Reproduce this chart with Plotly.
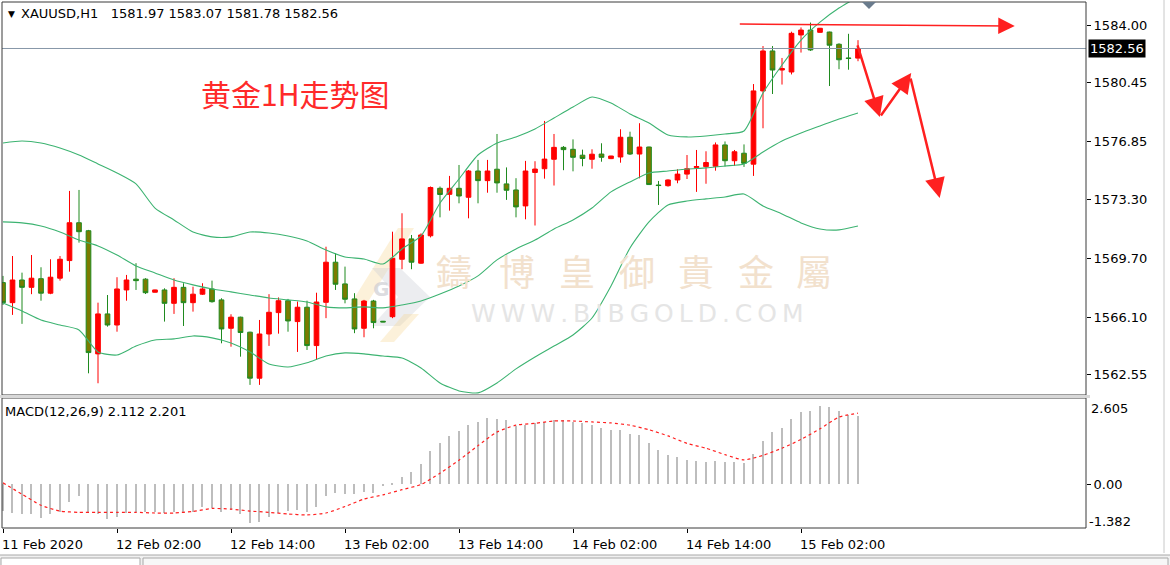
import plotly.graph_objects as go

# ---------------- data ----------------
bars = list(range(91))
opens = [1568.21, 1566.98, 1568.37, 1567.92, 1568.45, 1567.56, 1568.48, 1569.56, 1571.88, 1571.39,
         1563.84, 1566.29, 1565.61, 1567.76, 1568.42, 1568.42, 1567.62, 1567.76, 1566.94, 1567.92,
         1566.98, 1567.50, 1567.82, 1567.15, 1565.41, 1566.09, 1565.17, 1562.35, 1565.06, 1566.37,
         1567.10, 1565.82, 1566.70, 1564.35, 1567.00, 1569.46, 1568.13, 1567.21, 1565.41, 1567.08,
         1565.84, 1566.12, 1569.64, 1570.89, 1569.40, 1571.08, 1573.99, 1573.62, 1573.99, 1573.44,
         1575.05, 1574.46, 1575.16, 1574.26, 1573.89, 1572.91, 1574.96, 1575.19, 1575.77, 1576.50,
         1576.38, 1576.02, 1575.77, 1576.09, 1575.81, 1575.91, 1577.12, 1576.09, 1576.52, 1574.19,
         1574.15, 1574.50, 1574.86, 1575.27, 1575.32, 1575.34, 1576.65, 1575.68, 1576.14, 1575.47,
         1579.96, 1582.41, 1581.24, 1581.12, 1583.39, 1583.69, 1583.55, 1583.57, 1582.82, 1581.98,
         1581.97]
highs = [1568.62, 1569.84, 1568.82, 1569.90, 1569.15, 1569.64, 1569.84, 1573.83, 1573.89, 1571.44,
         1566.98, 1567.45, 1568.54, 1568.68, 1569.40, 1568.48, 1567.78, 1567.86, 1568.48, 1568.17,
         1567.96, 1568.17, 1568.33, 1567.25, 1566.27, 1566.12, 1565.20, 1565.92, 1567.50, 1567.30,
         1567.21, 1567.05, 1567.10, 1567.59, 1570.41, 1570.01, 1569.19, 1567.56, 1567.15, 1567.15,
         1565.86, 1571.33, 1572.46, 1571.13, 1571.23, 1574.10, 1574.10, 1574.75, 1575.42, 1575.11,
         1575.73, 1575.73, 1577.32, 1575.27, 1574.61, 1575.67, 1575.65, 1578.12, 1577.32, 1576.58,
         1576.99, 1576.36, 1576.38, 1576.75, 1575.98, 1577.61, 1577.46, 1577.98, 1576.54, 1574.44,
         1574.54, 1575.16, 1576.03, 1576.34, 1576.26, 1576.80, 1576.86, 1576.34, 1576.68, 1580.38,
         1582.71, 1582.71, 1581.98, 1583.59, 1583.85, 1584.15, 1583.82, 1583.59, 1582.88, 1583.46,
         1583.07]
lows = [1566.84, 1566.23, 1565.68, 1567.50, 1567.10, 1567.50, 1568.33, 1568.88, 1570.66, 1562.65,
        1562.04, 1565.51, 1565.20, 1567.10, 1567.76, 1567.51, 1567.60, 1565.82, 1566.29, 1565.55,
        1566.43, 1567.45, 1566.98, 1564.49, 1564.28, 1563.67, 1561.94, 1561.94, 1564.33, 1565.08,
        1565.20, 1563.96, 1564.08, 1563.47, 1566.03, 1567.76, 1566.94, 1565.11, 1564.86, 1565.41,
        1565.78, 1566.03, 1569.03, 1569.03, 1569.36, 1570.98, 1572.21, 1572.62, 1573.07, 1572.15,
        1573.07, 1573.72, 1573.72, 1573.28, 1572.21, 1572.09, 1571.71, 1574.58, 1574.16, 1575.10,
        1575.03, 1575.34, 1575.19, 1575.62, 1575.78, 1575.56, 1576.03, 1574.60, 1574.19, 1572.97,
        1574.09, 1574.30, 1574.56, 1573.77, 1574.27, 1575.07, 1575.32, 1575.36, 1575.30, 1574.75,
        1577.67, 1579.77, 1580.35, 1580.97, 1582.31, 1582.41, 1583.53, 1580.26, 1581.29, 1581.26,
        1581.78]
closes = [1566.98, 1568.37, 1567.92, 1568.48, 1567.56, 1568.54, 1569.64, 1571.88, 1571.33, 1563.92,
          1566.29, 1565.61, 1567.82, 1568.37, 1568.33, 1567.59, 1567.76, 1566.94, 1567.92, 1566.98,
          1567.50, 1567.82, 1567.04, 1565.37, 1566.09, 1565.15, 1562.35, 1565.06, 1566.39, 1567.10,
          1565.86, 1566.70, 1564.35, 1567.02, 1569.46, 1568.11, 1567.19, 1565.37, 1567.08, 1565.76,
          1565.80, 1569.70, 1570.89, 1569.46, 1571.13, 1574.04, 1573.61, 1573.99, 1573.52, 1575.05,
          1574.46, 1575.05, 1574.32, 1573.87, 1572.85, 1575.05, 1575.17, 1575.78, 1576.50, 1576.36,
          1575.89, 1575.82, 1576.08, 1575.89, 1575.97, 1577.12, 1576.09, 1576.52, 1574.22, 1574.16,
          1574.50, 1574.86, 1575.19, 1575.32, 1575.57, 1576.65, 1575.68, 1576.23, 1575.52, 1579.96,
          1582.41, 1581.24, 1581.33, 1583.49, 1583.69, 1582.47, 1583.80, 1582.76, 1581.87, 1581.95,
          1582.56]

band_bars = list(range(0, 91, 2))
bb_upper = [1576.77, 1576.89, 1576.77, 1576.46, 1576.03, 1575.48, 1574.93, 1574.26, 1572.78, 1572.05,
            1571.31, 1571.01, 1571.01, 1571.31, 1571.25, 1571.07, 1570.76, 1570.21, 1569.78, 1569.66,
            1569.35, 1570.27, 1571.07, 1573.09, 1574.56, 1576.03, 1576.77, 1577.14, 1577.63, 1578.30,
            1578.97, 1579.59, 1579.22, 1578.55, 1577.99, 1577.26, 1577.14, 1577.20, 1577.32, 1577.50,
            1579.83, 1581.55, 1583.08, 1584.18, 1585.04, 1585.72]
bb_middle = [1571.93, 1571.87, 1571.68, 1571.31, 1570.82, 1570.46, 1569.90, 1569.23, 1568.80, 1568.37,
             1568.07, 1567.82, 1567.64, 1567.45, 1567.27, 1567.15, 1567.02, 1566.72, 1566.66, 1566.72,
             1566.66, 1566.84, 1567.08, 1567.51, 1568.00, 1568.62, 1569.60, 1570.27, 1570.82, 1571.50,
             1572.05, 1572.78, 1573.77, 1574.38, 1574.93, 1575.05, 1575.17, 1575.24, 1575.36, 1575.48,
             1576.22, 1576.89, 1577.38, 1577.81, 1578.24, 1578.61]
bb_lower = [1566.96, 1566.47, 1565.92, 1565.61, 1565.31, 1563.96, 1563.77, 1564.32, 1564.69, 1564.76,
            1564.94, 1564.82, 1564.51, 1563.96, 1563.22, 1563.04, 1563.30, 1563.71, 1563.90, 1563.84,
            1563.71, 1563.59, 1562.98, 1562.06, 1561.57, 1561.45, 1562.06, 1562.92, 1563.65, 1564.32,
            1565.00, 1566.04, 1568.00, 1570.33, 1571.93, 1572.97, 1573.21, 1573.34, 1573.46, 1573.64,
            1572.91, 1572.42, 1571.87, 1571.50, 1571.44, 1571.68]

macd = [-0.82, -0.89, -0.92, -0.92, -1.02, -0.92, -0.84, -0.53, -0.35, -0.86,
        -0.92, -1.06, -0.99, -0.89, -0.86, -0.86, -0.86, -0.89, -0.86, -0.86,
        -0.84, -0.69, -0.73, -0.86, -0.79, -0.92, -1.20, -1.15, -0.99, -0.89,
        -0.82, -0.79, -0.86, -0.69, -0.35, -0.27, -0.30, -0.30, -0.22, -0.27,
        -0.05, 0.06, 0.24, 0.38, 0.62, 1.03, 1.27, 1.51, 1.65, 1.84,
        1.94, 2.04, 2.02, 1.99, 1.81, 1.85, 1.89, 1.94, 1.99, 1.99,
        1.94, 1.89, 1.84, 1.75, 1.68, 1.68, 1.55, 1.53, 1.27, 1.06,
        0.91, 0.86, 0.76, 0.73, 0.70, 0.73, 0.69, 0.70, 0.65, 0.93,
        1.34, 1.61, 1.75, 2.02, 2.23, 2.27, 2.42, 2.38, 2.27, 2.15,
        2.112]
signal = [0.05, -0.30, -0.64, -0.82, -0.86, -0.86, -0.86, -0.86, -0.88, -0.88,
          -0.83, -0.74, -0.76, -0.82, -0.86, -0.91, -0.94, -0.88, -0.68, -0.45,
          -0.32, -0.16, 0.00, 0.35, 0.75, 1.20, 1.62, 1.83, 1.89, 1.96,
          1.96, 1.93, 1.90, 1.83, 1.69, 1.50, 1.27, 1.12, 0.92, 0.76,
          0.90, 1.12, 1.39, 1.72, 2.08, 2.201]

price_ticks = [1584.00, 1580.45, 1576.85, 1573.30, 1569.70, 1566.10, 1562.55]
time_tick_bars = [0, 12, 24, 36, 48, 60, 72, 84]
time_tick_labels = ["11 Feb 2020", "12 Feb 02:00", "12 Feb 14:00", "13 Feb 02:00",
                    "13 Feb 14:00", "14 Feb 02:00", "14 Feb 14:00", "15 Feb 02:00"]
last_price = 1582.56

# ---------------- geometry helpers ----------------
W, H = 1170, 565
PL, PR, PT, PB = 2, 1086, 2, 528


def px(x):
    return (x - PL) / (PR - PL)


def py(y):
    return (PB - y) / (PB - PT)


MT4 = "DejaVu Sans"

fig = go.Figure()

fig.add_trace(go.Candlestick(
    x=bars, open=opens, high=highs, low=lows, close=closes,
    increasing=dict(line=dict(color="#FF0000", width=1), fillcolor="#FF0000"),
    decreasing=dict(line=dict(color="#1F8A1F", width=1), fillcolor="#7B7B00"),
    whiskerwidth=0, xaxis="x", yaxis="y", hoverinfo="skip", showlegend=False))

for band in (bb_upper, bb_middle, bb_lower):
    fig.add_trace(go.Scatter(
        x=band_bars, y=band, mode="lines", xaxis="x", yaxis="y",
        line=dict(color="#3CB371", width=1.1, shape="spline", smoothing=0.6),
        hoverinfo="skip", showlegend=False))

fig.add_trace(go.Bar(
    x=bars, y=macd, width=0.2, xaxis="x2", yaxis="y2",
    marker=dict(color="#BDBDBD", line=dict(width=0)), hoverinfo="skip", showlegend=False))
fig.add_trace(go.Scatter(
    x=band_bars, y=signal, mode="lines", xaxis="x2", yaxis="y2",
    line=dict(color="#FF2020", width=1.2, dash="dot", shape="spline", smoothing=0.6),
    hoverinfo="skip", showlegend=False))

xr = [-(3 - PL) / 9.5, (PR - 3) / 9.5]

shapes = []


def poly(pts, color, layer="below"):
    d = "M " + " L ".join(f"{px(a)},{py(b)}" for a, b in pts) + " Z"
    return dict(type="path", path=d, xref="paper", yref="paper", fillcolor=color,
                line=dict(width=0), layer=layer)


# faint logo
shapes.append(poly([(350, 305), (398, 228), (414, 228), (366, 305)], "rgba(245,214,150,0.35)"))
shapes.append(poly([(372, 268), (400, 268), (430, 297), (400, 326), (372, 326), (398, 297)],
                   "rgba(200,202,212,0.35)"))
shapes.append(poly([(380, 342), (404, 314), (419, 314), (394, 342)], "rgba(245,214,150,0.35)"))

# current price line
shapes.append(dict(type="line", xref="paper", yref="y", x0=0, x1=1, y0=last_price, y1=last_price,
                   line=dict(color="#8797A8", width=1)))
# panel frames
shapes.append(dict(type="rect", xref="paper", yref="paper", x0=px(2), x1=px(1086), y0=py(395), y1=py(2),
                   line=dict(color="#3A3A3A", width=1)))
shapes.append(dict(type="rect", xref="paper", yref="paper", x0=px(2), x1=px(1086), y0=py(528), y1=py(398),
                   line=dict(color="#3A3A3A", width=1)))
shapes.append(dict(type="rect", xref="paper", yref="paper", x0=px(0), x1=px(1090), y0=py(398), y1=py(395),
                   line=dict(width=0), fillcolor="#D8D8D8"))
# shift marker
shapes.append(poly([(862, 2), (876, 2), (869, 9)], "#6A7B8C", layer="above"))
# bottom strip / window edges
shapes.append(dict(type="rect", xref="paper", yref="paper", x0=px(0), x1=px(1170), y0=py(565), y1=py(555),
                   line=dict(width=0), fillcolor="#F0F0F0"))
shapes.append(dict(type="line", xref="paper", yref="paper", x0=px(0), x1=px(1170), y0=py(555), y1=py(555),
                   line=dict(color="#A8A8A8", width=1)))
shapes.append(dict(type="rect", xref="paper", yref="paper", x0=px(1), x1=px(140), y0=py(566), y1=py(558),
                   line=dict(color="#A8A8A8", width=1), fillcolor="#FFFFFF"))
shapes.append(dict(type="rect", xref="paper", yref="paper", x0=px(143), x1=px(1168), y0=py(566), y1=py(558),
                   line=dict(color="#A8A8A8", width=1), fillcolor="#F7F7F7"))
shapes.append(dict(type="line", xref="paper", yref="paper", x0=px(1164), x1=px(1164), y0=py(553), y1=py(0),
                   line=dict(color="#C8C8C8", width=1)))

ann = []
# header
ann.append(dict(x=px(6), y=py(14), xref="paper", yref="paper", xanchor="left", yanchor="middle",
                text="▼", showarrow=False, font=dict(family=MT4, size=9, color="#000")))
ann.append(dict(x=px(19), y=py(14), xref="paper", yref="paper", xanchor="left", yanchor="middle",
                text="XAUUSD,H1\u00a0\u00a0 1581.97 1583.07 1581.78 1582.56", showarrow=False,
                font=dict(family=MT4, size=13, color="#000")))
ann.append(dict(x=px(3), y=py(411), xref="paper", yref="paper", xanchor="left", yanchor="middle",
                text="MACD(12,26,9) 2.112 2.201", showarrow=False,
                font=dict(family=MT4, size=13, color="#000")))
for b, t in zip(time_tick_bars, time_tick_labels):
    ann.append(dict(x=b, y=py(544), xref="x2", yref="paper", xanchor="left", yanchor="middle",
                    text=t, showarrow=False, xshift=-3, font=dict(family=MT4, size=13, color="#000")))
ann.append(dict(x=px(1089), y=py(408), xref="paper", yref="paper", xanchor="left", yanchor="middle",
                text="2.605", showarrow=False, font=dict(family=MT4, size=13, color="#000")))
ann.append(dict(x=px(1087), y=py(521), xref="paper", yref="paper", xanchor="left", yanchor="middle",
                text="-1.382", showarrow=False, font=dict(family=MT4, size=13, color="#000")))
ann.append(dict(x=px(1088), y=last_price, xref="paper", yref="y", xanchor="left", yanchor="middle",
                text="1582.56", showarrow=False, bgcolor="#000000", borderpad=1,
                font=dict(family=MT4, size=13, color="#FFFFFF")))
# title
ann.append(dict(x=px(199), y=py(93), xref="paper", yref="paper", xanchor="left", yanchor="middle",
                text="黄金1H走势图", showarrow=False,
                font=dict(family="Noto Sans CJK SC", size=30, color="#FF2A2A")))
# watermark
for ch, cx in zip("鑄博皇御貴金屬", [454, 517, 577, 637, 696, 756, 814]):
    ann.append(dict(x=px(cx), y=py(270), xref="paper", yref="paper", xanchor="center", yanchor="middle",
                    text=ch, showarrow=False,
                    font=dict(family="Noto Sans CJK TC", size=36, color="#F2E1CD")))
ann.append(dict(x=px(637), y=py(313), xref="paper", yref="paper", xanchor="center", yanchor="middle",
                text="\u2009".join("WWW.BIBGOLD.COM"), showarrow=False,
                font=dict(family=MT4, size=25, color="#E5E5E5")))
ann.append(dict(x=px(381), y=py(289), xref="paper", yref="paper", xanchor="center", yanchor="middle",
                text="<b>G</b>", showarrow=False, font=dict(family=MT4, size=20, color="rgba(205,205,210,0.7)")))


# drawn arrows (bar index, price)
def arrow(tail, head, width, size):
    return dict(x=head[0], y=head[1], ax=tail[0], ay=tail[1], xref="x", yref="y",
                axref="x", ayref="y", text="", showarrow=True, arrowhead=2,
                arrowwidth=width, arrowsize=size, arrowcolor="#FF2020")


ann.append(arrow((77.4, 1584.06), (106.5, 1583.94), 1.5, 2.2))
ann.append(arrow((89.9, 1582.84), (92.3, 1578.36), 2.5, 1.6))
ann.append(arrow((92.3, 1578.36), (95.6, 1581.06), 2.5, 1.6))
ann.append(arrow((95.5, 1580.81), (98.6, 1573.40), 2.5, 1.6))

fig.update_layout(
    width=W, height=H, margin=dict(l=PL, r=W - PR, t=PT, b=H - PB),
    paper_bgcolor="#FFFFFF", plot_bgcolor="#FFFFFF", showlegend=False, bargap=0,
    xaxis=dict(domain=[0, 1], range=xr, anchor="y", showticklabels=False, showgrid=False,
               zeroline=False, showline=False, ticks="", rangeslider=dict(visible=False)),
    xaxis2=dict(domain=[0, 1], range=xr, anchor="y2", showgrid=False, zeroline=False, showline=False,
                tickvals=time_tick_bars, ticktext=[""] * len(time_tick_bars), ticks="outside",
                ticklen=4, tickcolor="#000"),
    yaxis=dict(domain=[py(395), 1], range=[1561.32, 1585.41], side="right", anchor="x",
               tickvals=price_ticks, ticktext=[f"{v:.2f}" for v in price_ticks],
               ticks="outside", ticklen=4, tickcolor="#000", showgrid=False, zeroline=False,
               showline=False, tickfont=dict(family=MT4, size=13, color="#000")),
    yaxis2=dict(domain=[0, py(398)], range=[-1.343, 2.670], side="right", anchor="x2",
                tickvals=[0], ticktext=["0.00"], ticks="outside", ticklen=4, tickcolor="#000",
                showgrid=False, zeroline=False, showline=False,
                tickfont=dict(family=MT4, size=13, color="#000")),
    shapes=shapes, annotations=ann,
)

fig.write_html("out.html", config={"displayModeBar": False},
               post_script="document.body.style.margin='0';document.body.style.padding='0';")
